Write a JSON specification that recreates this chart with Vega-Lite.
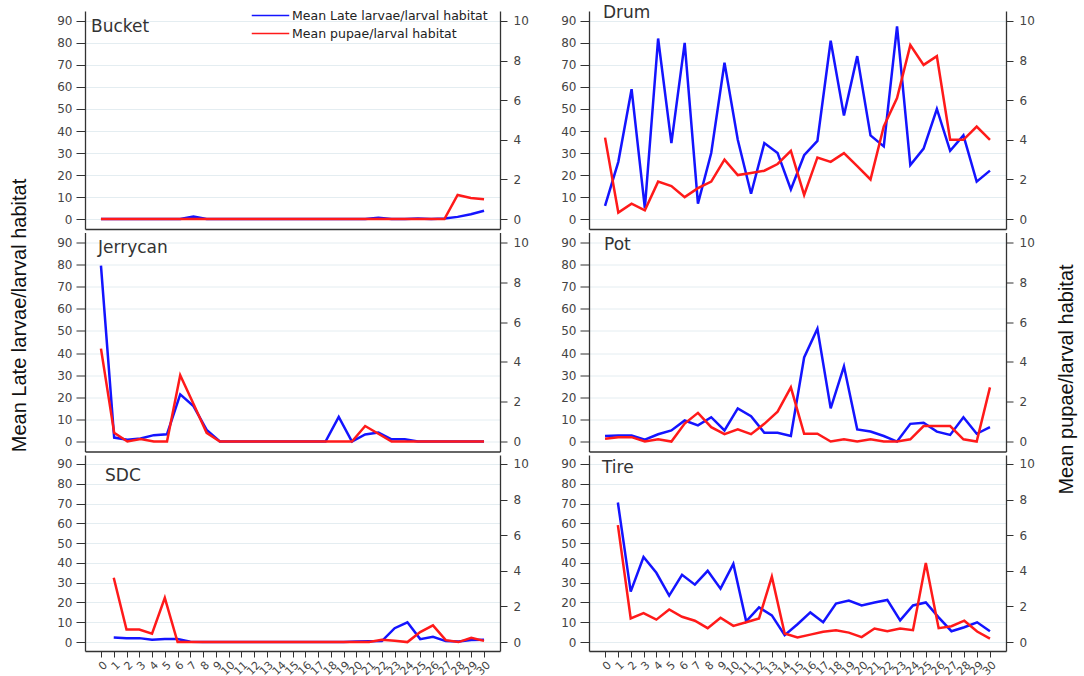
{
"$schema": "https://vega.github.io/schema/vega-lite/v6.json",
"background": "white",
"padding": {"left": 9, "top": 4, "right": 2, "bottom": 2},
"config": {"view": {"stroke": null}},
"datasets": {"d": [
{"type":"Bucket","week":1,"larvae":0,"pupae":0},{"type":"Bucket","week":2,"larvae":0,"pupae":0},{"type":"Bucket","week":3,"larvae":0,"pupae":0},{"type":"Bucket","week":4,"larvae":0,"pupae":0},{"type":"Bucket","week":5,"larvae":0,"pupae":0},{"type":"Bucket","week":6,"larvae":0,"pupae":0},{"type":"Bucket","week":7,"larvae":0,"pupae":0},{"type":"Bucket","week":8,"larvae":1.2,"pupae":0},{"type":"Bucket","week":9,"larvae":0,"pupae":0},{"type":"Bucket","week":10,"larvae":0,"pupae":0},{"type":"Bucket","week":11,"larvae":0,"pupae":0},{"type":"Bucket","week":12,"larvae":0,"pupae":0},{"type":"Bucket","week":13,"larvae":0,"pupae":0},{"type":"Bucket","week":14,"larvae":0,"pupae":0},{"type":"Bucket","week":15,"larvae":0,"pupae":0},{"type":"Bucket","week":16,"larvae":0,"pupae":0},{"type":"Bucket","week":17,"larvae":0,"pupae":0},{"type":"Bucket","week":18,"larvae":0,"pupae":0},{"type":"Bucket","week":19,"larvae":0,"pupae":0},{"type":"Bucket","week":20,"larvae":0,"pupae":0},{"type":"Bucket","week":21,"larvae":0,"pupae":0},{"type":"Bucket","week":22,"larvae":0.6,"pupae":0},{"type":"Bucket","week":23,"larvae":0,"pupae":0},{"type":"Bucket","week":24,"larvae":0,"pupae":0},{"type":"Bucket","week":25,"larvae":0.3,"pupae":0},{"type":"Bucket","week":26,"larvae":0,"pupae":0},{"type":"Bucket","week":27,"larvae":0.3,"pupae":0},{"type":"Bucket","week":28,"larvae":1,"pupae":1.22},{"type":"Bucket","week":29,"larvae":2.2,"pupae":1.06},{"type":"Bucket","week":30,"larvae":3.8,"pupae":1.0},
{"type":"Drum","week":1,"larvae":6,"pupae":4.11},{"type":"Drum","week":2,"larvae":26,"pupae":0.33},{"type":"Drum","week":3,"larvae":59,"pupae":0.78},{"type":"Drum","week":4,"larvae":5,"pupae":0.44},{"type":"Drum","week":5,"larvae":82,"pupae":1.89},{"type":"Drum","week":6,"larvae":34.5,"pupae":1.67},{"type":"Drum","week":7,"larvae":80,"pupae":1.11},{"type":"Drum","week":8,"larvae":7,"pupae":1.56},{"type":"Drum","week":9,"larvae":30,"pupae":1.89},{"type":"Drum","week":10,"larvae":71,"pupae":3.0},{"type":"Drum","week":11,"larvae":36,"pupae":2.22},{"type":"Drum","week":12,"larvae":11.5,"pupae":2.33},{"type":"Drum","week":13,"larvae":34.5,"pupae":2.44},{"type":"Drum","week":14,"larvae":30,"pupae":2.78},{"type":"Drum","week":15,"larvae":13.5,"pupae":3.44},{"type":"Drum","week":16,"larvae":29,"pupae":1.22},{"type":"Drum","week":17,"larvae":35.5,"pupae":3.11},{"type":"Drum","week":18,"larvae":81,"pupae":2.89},{"type":"Drum","week":19,"larvae":47,"pupae":3.33},{"type":"Drum","week":20,"larvae":74,"pupae":2.67},{"type":"Drum","week":21,"larvae":38,"pupae":2.0},{"type":"Drum","week":22,"larvae":33,"pupae":4.67},{"type":"Drum","week":23,"larvae":87.5,"pupae":6.11},{"type":"Drum","week":24,"larvae":24.5,"pupae":8.78},{"type":"Drum","week":25,"larvae":32,"pupae":7.78},{"type":"Drum","week":26,"larvae":50,"pupae":8.22},{"type":"Drum","week":27,"larvae":31,"pupae":4.0},{"type":"Drum","week":28,"larvae":38,"pupae":4.0},{"type":"Drum","week":29,"larvae":17,"pupae":4.67},{"type":"Drum","week":30,"larvae":22,"pupae":4.0},
{"type":"Jerrycan","week":1,"larvae":79.5,"pupae":4.67},{"type":"Jerrycan","week":2,"larvae":1.8,"pupae":0.44},{"type":"Jerrycan","week":3,"larvae":0.8,"pupae":0},{"type":"Jerrycan","week":4,"larvae":1.4,"pupae":0.13},{"type":"Jerrycan","week":5,"larvae":2.9,"pupae":0},{"type":"Jerrycan","week":6,"larvae":3.3,"pupae":0},{"type":"Jerrycan","week":7,"larvae":21.3,"pupae":3.33},{"type":"Jerrycan","week":8,"larvae":16,"pupae":1.9},{"type":"Jerrycan","week":9,"larvae":5.3,"pupae":0.44},{"type":"Jerrycan","week":10,"larvae":0,"pupae":0},{"type":"Jerrycan","week":11,"larvae":0,"pupae":0},{"type":"Jerrycan","week":12,"larvae":0,"pupae":0},{"type":"Jerrycan","week":13,"larvae":0,"pupae":0},{"type":"Jerrycan","week":14,"larvae":0,"pupae":0},{"type":"Jerrycan","week":15,"larvae":0,"pupae":0},{"type":"Jerrycan","week":16,"larvae":0,"pupae":0},{"type":"Jerrycan","week":17,"larvae":0,"pupae":0},{"type":"Jerrycan","week":18,"larvae":0,"pupae":0},{"type":"Jerrycan","week":19,"larvae":11.1,"pupae":0},{"type":"Jerrycan","week":20,"larvae":0,"pupae":0},{"type":"Jerrycan","week":21,"larvae":3.2,"pupae":0.78},{"type":"Jerrycan","week":22,"larvae":4.1,"pupae":0.39},{"type":"Jerrycan","week":23,"larvae":1,"pupae":0},{"type":"Jerrycan","week":24,"larvae":1,"pupae":0},{"type":"Jerrycan","week":25,"larvae":0,"pupae":0},{"type":"Jerrycan","week":26,"larvae":0,"pupae":0},{"type":"Jerrycan","week":27,"larvae":0,"pupae":0},{"type":"Jerrycan","week":28,"larvae":0,"pupae":0},{"type":"Jerrycan","week":29,"larvae":0,"pupae":0},{"type":"Jerrycan","week":30,"larvae":0,"pupae":0},
{"type":"Pot","week":1,"larvae":2.5,"pupae":0.14},{"type":"Pot","week":2,"larvae":2.7,"pupae":0.22},{"type":"Pot","week":3,"larvae":2.7,"pupae":0.22},{"type":"Pot","week":4,"larvae":0.8,"pupae":0},{"type":"Pot","week":5,"larvae":3.3,"pupae":0.11},{"type":"Pot","week":6,"larvae":5,"pupae":0},{"type":"Pot","week":7,"larvae":9.5,"pupae":0.9},{"type":"Pot","week":8,"larvae":7.3,"pupae":1.44},{"type":"Pot","week":9,"larvae":11,"pupae":0.72},{"type":"Pot","week":10,"larvae":5,"pupae":0.37},{"type":"Pot","week":11,"larvae":15,"pupae":0.61},{"type":"Pot","week":12,"larvae":11.5,"pupae":0.37},{"type":"Pot","week":13,"larvae":4,"pupae":0.89},{"type":"Pot","week":14,"larvae":4,"pupae":1.5},{"type":"Pot","week":15,"larvae":2.5,"pupae":2.72},{"type":"Pot","week":16,"larvae":38,"pupae":0.39},{"type":"Pot","week":17,"larvae":51,"pupae":0.39},{"type":"Pot","week":18,"larvae":15,"pupae":0},{"type":"Pot","week":19,"larvae":34,"pupae":0.11},{"type":"Pot","week":20,"larvae":5.5,"pupae":0},{"type":"Pot","week":21,"larvae":4.5,"pupae":0.11},{"type":"Pot","week":22,"larvae":2.5,"pupae":0},{"type":"Pot","week":23,"larvae":0,"pupae":0},{"type":"Pot","week":24,"larvae":8,"pupae":0.11},{"type":"Pot","week":25,"larvae":8.5,"pupae":0.78},{"type":"Pot","week":26,"larvae":4.5,"pupae":0.78},{"type":"Pot","week":27,"larvae":3,"pupae":0.78},{"type":"Pot","week":28,"larvae":11,"pupae":0.11},{"type":"Pot","week":29,"larvae":3.5,"pupae":0},{"type":"Pot","week":30,"larvae":6.5,"pupae":2.72},
{"type":"SDC","week":1,"larvae":2.3,"pupae":3.61},{"type":"SDC","week":2,"larvae":2,"pupae":0.7},{"type":"SDC","week":3,"larvae":2,"pupae":0.7},{"type":"SDC","week":4,"larvae":1.2,"pupae":0.47},{"type":"SDC","week":5,"larvae":1.5,"pupae":2.48},{"type":"SDC","week":6,"larvae":1.5,"pupae":0},{"type":"SDC","week":7,"larvae":0.2,"pupae":0},{"type":"SDC","week":8,"larvae":0,"pupae":0},{"type":"SDC","week":9,"larvae":0,"pupae":0},{"type":"SDC","week":10,"larvae":0,"pupae":0},{"type":"SDC","week":11,"larvae":0,"pupae":0},{"type":"SDC","week":12,"larvae":0,"pupae":0},{"type":"SDC","week":13,"larvae":0,"pupae":0},{"type":"SDC","week":14,"larvae":0,"pupae":0},{"type":"SDC","week":15,"larvae":0,"pupae":0},{"type":"SDC","week":16,"larvae":0,"pupae":0},{"type":"SDC","week":17,"larvae":0,"pupae":0},{"type":"SDC","week":18,"larvae":0,"pupae":0},{"type":"SDC","week":19,"larvae":0,"pupae":0},{"type":"SDC","week":20,"larvae":0.3,"pupae":0},{"type":"SDC","week":21,"larvae":0.4,"pupae":0},{"type":"SDC","week":22,"larvae":0.5,"pupae":0.13},{"type":"SDC","week":23,"larvae":7,"pupae":0.07},{"type":"SDC","week":24,"larvae":10,"pupae":0},{"type":"SDC","week":25,"larvae":1.5,"pupae":0.56},{"type":"SDC","week":26,"larvae":2.7,"pupae":0.94},{"type":"SDC","week":27,"larvae":0.5,"pupae":0.11},{"type":"SDC","week":28,"larvae":0.3,"pupae":0},{"type":"SDC","week":29,"larvae":1,"pupae":0.24},{"type":"SDC","week":30,"larvae":1.2,"pupae":0.07},
{"type":"Tire","week":1,"larvae":70.5,"pupae":6.56},{"type":"Tire","week":2,"larvae":25.5,"pupae":1.33},{"type":"Tire","week":3,"larvae":43,"pupae":1.63},{"type":"Tire","week":4,"larvae":35,"pupae":1.26},{"type":"Tire","week":5,"larvae":23.5,"pupae":1.83},{"type":"Tire","week":6,"larvae":34,"pupae":1.42},{"type":"Tire","week":7,"larvae":29,"pupae":1.2},{"type":"Tire","week":8,"larvae":36,"pupae":0.78},{"type":"Tire","week":9,"larvae":27,"pupae":1.37},{"type":"Tire","week":10,"larvae":39.5,"pupae":0.91},{"type":"Tire","week":11,"larvae":10.5,"pupae":1.11},{"type":"Tire","week":12,"larvae":17.5,"pupae":1.33},{"type":"Tire","week":13,"larvae":13.5,"pupae":3.67},{"type":"Tire","week":14,"larvae":3.5,"pupae":0.48},{"type":"Tire","week":15,"larvae":9,"pupae":0.26},{"type":"Tire","week":16,"larvae":15,"pupae":0.42},{"type":"Tire","week":17,"larvae":10,"pupae":0.58},{"type":"Tire","week":18,"larvae":19.5,"pupae":0.67},{"type":"Tire","week":19,"larvae":21,"pupae":0.53},{"type":"Tire","week":20,"larvae":18.5,"pupae":0.28},{"type":"Tire","week":21,"larvae":20,"pupae":0.76},{"type":"Tire","week":22,"larvae":21.3,"pupae":0.61},{"type":"Tire","week":23,"larvae":11,"pupae":0.76},{"type":"Tire","week":24,"larvae":18.5,"pupae":0.67},{"type":"Tire","week":25,"larvae":20,"pupae":4.44},{"type":"Tire","week":26,"larvae":12.5,"pupae":0.78},{"type":"Tire","week":27,"larvae":5.5,"pupae":0.89},{"type":"Tire","week":28,"larvae":7.5,"pupae":1.2},{"type":"Tire","week":29,"larvae":10,"pupae":0.59},{"type":"Tire","week":30,"larvae":5.5,"pupae":0.19}
]},
"columns": 2,
"bounds": "flush",
"spacing": {"row": 3.5, "column": 89},
"concat": [
 {"width": 415, "height": 218, "data": {"name": "d"}, "transform": [{"filter": "datum.type === 'Bucket'"}],
  "title": {"text": "Bucket", "anchor": "start", "frame": "group", "offset": -38, "dx": 6, "baseline": "alphabetic", "font": "DejaVu Sans", "fontSize": 17, "fontWeight": "normal", "color": "#333"},
  "layer": [
   {"mark": {"type": "line", "strokeWidth": 2.5},
    "encoding": {
     "x": {"field": "week", "type": "quantitative", "scale": {"domain": [-0.2083, 31.2083], "nice": false, "zero": false}, "axis": {"values": [], "ticks": false, "labels": false, "grid": false, "title": null, "domainColor": "#333", "domainWidth": 1.3}},
     "y": {"field": "larvae", "type": "quantitative", "scale": {"domain": [-4.5, 94.5], "nice": false, "zero": false}, "axis": {"values": [0,10,20,30,40,50,60,70,80,90], "grid": true, "gridColor": "#e4edf1", "tickSize": 9, "tickColor": "#333", "labelPadding": 4, "labelFont": "DejaVu Sans", "labelFontSize": 12, "labelColor": "#444", "domainColor": "#333", "domainWidth": 1.3,
       "title": "Mean Late larvae/larval habitat", "titleFont": "Liberation Sans", "titleFontSize": 20, "titleFontWeight": "normal", "titleColor": "#111", "titleAngle": -90, "titleBaseline": "top", "titleAlign": "center", "titleX": -76, "titleY": 304}},
     "color": {"datum": "Mean Late larvae/larval habitat", "type": "nominal", "scale": {"domain": ["Mean Late larvae/larval habitat", "Mean pupae/larval habitat"], "range": ["#1414ff", "#ff1a1a"]},
      "legend": {"orient": "none", "legendX": 177, "legendY": -4, "title": null, "symbolType": "M-2.5,0H2.5", "symbolSize": 225, "symbolStrokeWidth": 1.5, "labelOffset": 13, "labelLimit": 400, "labelFont": "DejaVu Sans", "labelFontSize": 12.5, "labelColor": "#222", "rowPadding": 3, "padding": 0}}
    }},
   {"mark": {"type": "line", "strokeWidth": 2.5},
    "encoding": {
     "x": {"field": "week", "type": "quantitative", "scale": {"domain": [-0.2083, 31.2083], "nice": false, "zero": false}, "axis": {"values": [], "ticks": false, "labels": false, "grid": false, "title": null, "domainColor": "#333", "domainWidth": 1.3}},
     "y": {"field": "pupae", "type": "quantitative", "scale": {"domain": [-0.5, 10.5], "nice": false, "zero": false}, "axis": {"orient": "right", "values": [0,2,4,6,8,10], "grid": false, "tickSize": 7, "tickColor": "#333", "labelPadding": 6, "labelFont": "DejaVu Sans", "labelFontSize": 12, "labelColor": "#444", "domainColor": "#333", "domainWidth": 1.3, "title": null}},
     "color": {"datum": "Mean pupae/larval habitat", "type": "nominal"}
    }}
  ],
  "resolve": {"scale": {"y": "independent"}}},
 {"width": 417, "height": 218, "data": {"name": "d"}, "transform": [{"filter": "datum.type === 'Drum'"}],
  "title": {"text": "Drum", "anchor": "start", "frame": "group", "offset": -24, "dx": 14, "baseline": "alphabetic", "font": "DejaVu Sans", "fontSize": 17, "fontWeight": "normal", "color": "#333"},
  "layer": [
   {"mark": {"type": "line", "strokeWidth": 2.5, "color": "#1414ff"},
    "encoding": {
     "x": {"field": "week", "type": "quantitative", "scale": {"domain": [-0.2083, 31.2083], "nice": false, "zero": false}, "axis": {"values": [], "ticks": false, "labels": false, "grid": false, "title": null, "domainColor": "#333", "domainWidth": 1.3}},
     "y": {"field": "larvae", "type": "quantitative", "scale": {"domain": [-4.5, 94.5], "nice": false, "zero": false}, "axis": {"values": [0,10,20,30,40,50,60,70,80,90], "grid": true, "gridColor": "#e4edf1", "tickSize": 9, "tickColor": "#333", "labelPadding": 4, "labelFont": "DejaVu Sans", "labelFontSize": 12, "labelColor": "#444", "domainColor": "#333", "domainWidth": 1.3, "title": null}}
    }},
   {"mark": {"type": "line", "strokeWidth": 2.5, "color": "#ff1a1a"},
    "encoding": {
     "x": {"field": "week", "type": "quantitative", "scale": {"domain": [-0.2083, 31.2083], "nice": false, "zero": false}, "axis": {"values": [], "ticks": false, "labels": false, "grid": false, "title": null, "domainColor": "#333", "domainWidth": 1.3}},
     "y": {"field": "pupae", "type": "quantitative", "scale": {"domain": [-0.5, 10.5], "nice": false, "zero": false}, "axis": {"orient": "right", "values": [0,2,4,6,8,10], "grid": false, "tickSize": 7, "tickColor": "#333", "labelPadding": 6, "labelFont": "DejaVu Sans", "labelFontSize": 12, "labelColor": "#444", "domainColor": "#333", "domainWidth": 1.3,
       "title": "Mean pupae/larval habitat", "titleFont": "Liberation Sans", "titleFontSize": 20, "titleFontWeight": "normal", "titleColor": "#111", "titleAngle": -90, "titleBaseline": "top", "titleAlign": "center", "titleX": 50, "titleY": 368}}
    }}
  ],
  "resolve": {"scale": {"y": "independent"}}},
 {"width": 415, "height": 219, "data": {"name": "d"}, "transform": [{"filter": "datum.type === 'Jerrycan'"}],
  "title": {"text": "Jerrycan", "anchor": "start", "frame": "group", "offset": -37, "dx": 13, "baseline": "alphabetic", "font": "DejaVu Sans", "fontSize": 17, "fontWeight": "normal", "color": "#333"},
  "layer": [
   {"mark": {"type": "line", "strokeWidth": 2.5, "color": "#1414ff"},
    "encoding": {
     "x": {"field": "week", "type": "quantitative", "scale": {"domain": [-0.2083, 31.2083], "nice": false, "zero": false}, "axis": {"values": [], "ticks": false, "labels": false, "grid": false, "title": null, "domainColor": "#333", "domainWidth": 1.3}},
     "y": {"field": "larvae", "type": "quantitative", "scale": {"domain": [-4.5, 94.5], "nice": false, "zero": false}, "axis": {"values": [0,10,20,30,40,50,60,70,80,90], "grid": true, "gridColor": "#e4edf1", "tickSize": 9, "tickColor": "#333", "labelPadding": 4, "labelFont": "DejaVu Sans", "labelFontSize": 12, "labelColor": "#444", "domainColor": "#333", "domainWidth": 1.3, "title": null}}
    }},
   {"mark": {"type": "line", "strokeWidth": 2.5, "color": "#ff1a1a"},
    "encoding": {
     "x": {"field": "week", "type": "quantitative", "scale": {"domain": [-0.2083, 31.2083], "nice": false, "zero": false}, "axis": {"values": [], "ticks": false, "labels": false, "grid": false, "title": null, "domainColor": "#333", "domainWidth": 1.3}},
     "y": {"field": "pupae", "type": "quantitative", "scale": {"domain": [-0.5, 10.5], "nice": false, "zero": false}, "axis": {"orient": "right", "values": [0,2,4,6,8,10], "grid": false, "tickSize": 7, "tickColor": "#333", "labelPadding": 6, "labelFont": "DejaVu Sans", "labelFontSize": 12, "labelColor": "#444", "domainColor": "#333", "domainWidth": 1.3, "title": null}}
    }}
  ],
  "resolve": {"scale": {"y": "independent"}}},
 {"width": 417, "height": 219, "data": {"name": "d"}, "transform": [{"filter": "datum.type === 'Pot'"}],
  "title": {"text": "Pot", "anchor": "start", "frame": "group", "offset": -34, "dx": 15, "baseline": "alphabetic", "font": "DejaVu Sans", "fontSize": 17, "fontWeight": "normal", "color": "#333"},
  "layer": [
   {"mark": {"type": "line", "strokeWidth": 2.5, "color": "#1414ff"},
    "encoding": {
     "x": {"field": "week", "type": "quantitative", "scale": {"domain": [-0.2083, 31.2083], "nice": false, "zero": false}, "axis": {"values": [], "ticks": false, "labels": false, "grid": false, "title": null, "domainColor": "#333", "domainWidth": 1.3}},
     "y": {"field": "larvae", "type": "quantitative", "scale": {"domain": [-4.5, 94.5], "nice": false, "zero": false}, "axis": {"values": [0,10,20,30,40,50,60,70,80,90], "grid": true, "gridColor": "#e4edf1", "tickSize": 9, "tickColor": "#333", "labelPadding": 4, "labelFont": "DejaVu Sans", "labelFontSize": 12, "labelColor": "#444", "domainColor": "#333", "domainWidth": 1.3, "title": null}}
    }},
   {"mark": {"type": "line", "strokeWidth": 2.5, "color": "#ff1a1a"},
    "encoding": {
     "x": {"field": "week", "type": "quantitative", "scale": {"domain": [-0.2083, 31.2083], "nice": false, "zero": false}, "axis": {"values": [], "ticks": false, "labels": false, "grid": false, "title": null, "domainColor": "#333", "domainWidth": 1.3}},
     "y": {"field": "pupae", "type": "quantitative", "scale": {"domain": [-0.5, 10.5], "nice": false, "zero": false}, "axis": {"orient": "right", "values": [0,2,4,6,8,10], "grid": false, "tickSize": 7, "tickColor": "#333", "labelPadding": 6, "labelFont": "DejaVu Sans", "labelFontSize": 12, "labelColor": "#444", "domainColor": "#333", "domainWidth": 1.3, "title": null}}
    }}
  ],
  "resolve": {"scale": {"y": "independent"}}},
 {"width": 415, "height": 196, "data": {"name": "d"}, "transform": [{"filter": "datum.type === 'SDC'"}],
  "title": {"text": "SDC", "anchor": "start", "frame": "group", "offset": -43, "dx": 20, "baseline": "alphabetic", "font": "DejaVu Sans", "fontSize": 17, "fontWeight": "normal", "color": "#333"},
  "layer": [
   {"mark": {"type": "line", "strokeWidth": 2.5, "color": "#1414ff"},
    "encoding": {
     "x": {"field": "week", "type": "quantitative", "scale": {"domain": [-1.25, 31.25], "nice": false, "zero": false}, "axis": {"values": [0,1,2,3,4,5,6,7,8,9,10,11,12,13,14,15,16,17,18,19,20,21,22,23,24,25,26,27,28,29,30], "ticks": true, "tickSize": 6, "tickColor": "#333", "labels": true, "labelAngle": -45, "labelOverlap": false, "labelBound": false, "labelFont": "DejaVu Sans", "labelFontSize": 11, "labelColor": "#444", "labelPadding": 2, "grid": false, "title": null, "domainColor": "#333", "domainWidth": 1.3}},
     "y": {"field": "larvae", "type": "quantitative", "scale": {"domain": [-4.5, 94.5], "nice": false, "zero": false}, "axis": {"values": [0,10,20,30,40,50,60,70,80,90], "grid": true, "gridColor": "#e4edf1", "tickSize": 9, "tickColor": "#333", "labelPadding": 4, "labelFont": "DejaVu Sans", "labelFontSize": 12, "labelColor": "#444", "domainColor": "#333", "domainWidth": 1.3, "title": null}}
    }},
   {"mark": {"type": "line", "strokeWidth": 2.5, "color": "#ff1a1a"},
    "encoding": {
     "x": {"field": "week", "type": "quantitative", "scale": {"domain": [-1.25, 31.25], "nice": false, "zero": false}, "axis": {"values": [0,1,2,3,4,5,6,7,8,9,10,11,12,13,14,15,16,17,18,19,20,21,22,23,24,25,26,27,28,29,30], "ticks": true, "tickSize": 6, "tickColor": "#333", "labels": true, "labelAngle": -45, "labelOverlap": false, "labelBound": false, "labelFont": "DejaVu Sans", "labelFontSize": 11, "labelColor": "#444", "labelPadding": 2, "grid": false, "title": null, "domainColor": "#333", "domainWidth": 1.3}},
     "y": {"field": "pupae", "type": "quantitative", "scale": {"domain": [-0.5, 10.5], "nice": false, "zero": false}, "axis": {"orient": "right", "values": [0,2,4,6,8,10], "grid": false, "tickSize": 7, "tickColor": "#333", "labelPadding": 6, "labelFont": "DejaVu Sans", "labelFontSize": 12, "labelColor": "#444", "domainColor": "#333", "domainWidth": 1.3, "title": null}}
    }}
  ],
  "resolve": {"scale": {"y": "independent"}}},
 {"width": 417, "height": 196, "data": {"name": "d"}, "transform": [{"filter": "datum.type === 'Tire'"}],
  "title": {"text": "Tire", "anchor": "start", "frame": "group", "offset": -35, "dx": 13, "baseline": "alphabetic", "font": "DejaVu Sans", "fontSize": 17, "fontWeight": "normal", "color": "#333"},
  "layer": [
   {"mark": {"type": "line", "strokeWidth": 2.5, "color": "#1414ff"},
    "encoding": {
     "x": {"field": "week", "type": "quantitative", "scale": {"domain": [-1.25, 31.25], "nice": false, "zero": false}, "axis": {"values": [0,1,2,3,4,5,6,7,8,9,10,11,12,13,14,15,16,17,18,19,20,21,22,23,24,25,26,27,28,29,30], "ticks": true, "tickSize": 6, "tickColor": "#333", "labels": true, "labelAngle": -45, "labelOverlap": false, "labelBound": false, "labelFont": "DejaVu Sans", "labelFontSize": 11, "labelColor": "#444", "labelPadding": 2, "grid": false, "title": null, "domainColor": "#333", "domainWidth": 1.3}},
     "y": {"field": "larvae", "type": "quantitative", "scale": {"domain": [-4.5, 94.5], "nice": false, "zero": false}, "axis": {"values": [0,10,20,30,40,50,60,70,80,90], "grid": true, "gridColor": "#e4edf1", "tickSize": 9, "tickColor": "#333", "labelPadding": 4, "labelFont": "DejaVu Sans", "labelFontSize": 12, "labelColor": "#444", "domainColor": "#333", "domainWidth": 1.3, "title": null}}
    }},
   {"mark": {"type": "line", "strokeWidth": 2.5, "color": "#ff1a1a"},
    "encoding": {
     "x": {"field": "week", "type": "quantitative", "scale": {"domain": [-1.25, 31.25], "nice": false, "zero": false}, "axis": {"values": [0,1,2,3,4,5,6,7,8,9,10,11,12,13,14,15,16,17,18,19,20,21,22,23,24,25,26,27,28,29,30], "ticks": true, "tickSize": 6, "tickColor": "#333", "labels": true, "labelAngle": -45, "labelOverlap": false, "labelBound": false, "labelFont": "DejaVu Sans", "labelFontSize": 11, "labelColor": "#444", "labelPadding": 2, "grid": false, "title": null, "domainColor": "#333", "domainWidth": 1.3}},
     "y": {"field": "pupae", "type": "quantitative", "scale": {"domain": [-0.5, 10.5], "nice": false, "zero": false}, "axis": {"orient": "right", "values": [0,2,4,6,8,10], "grid": false, "tickSize": 7, "tickColor": "#333", "labelPadding": 6, "labelFont": "DejaVu Sans", "labelFontSize": 12, "labelColor": "#444", "domainColor": "#333", "domainWidth": 1.3, "title": null}}
    }}
  ],
  "resolve": {"scale": {"y": "independent"}}}
]
}
